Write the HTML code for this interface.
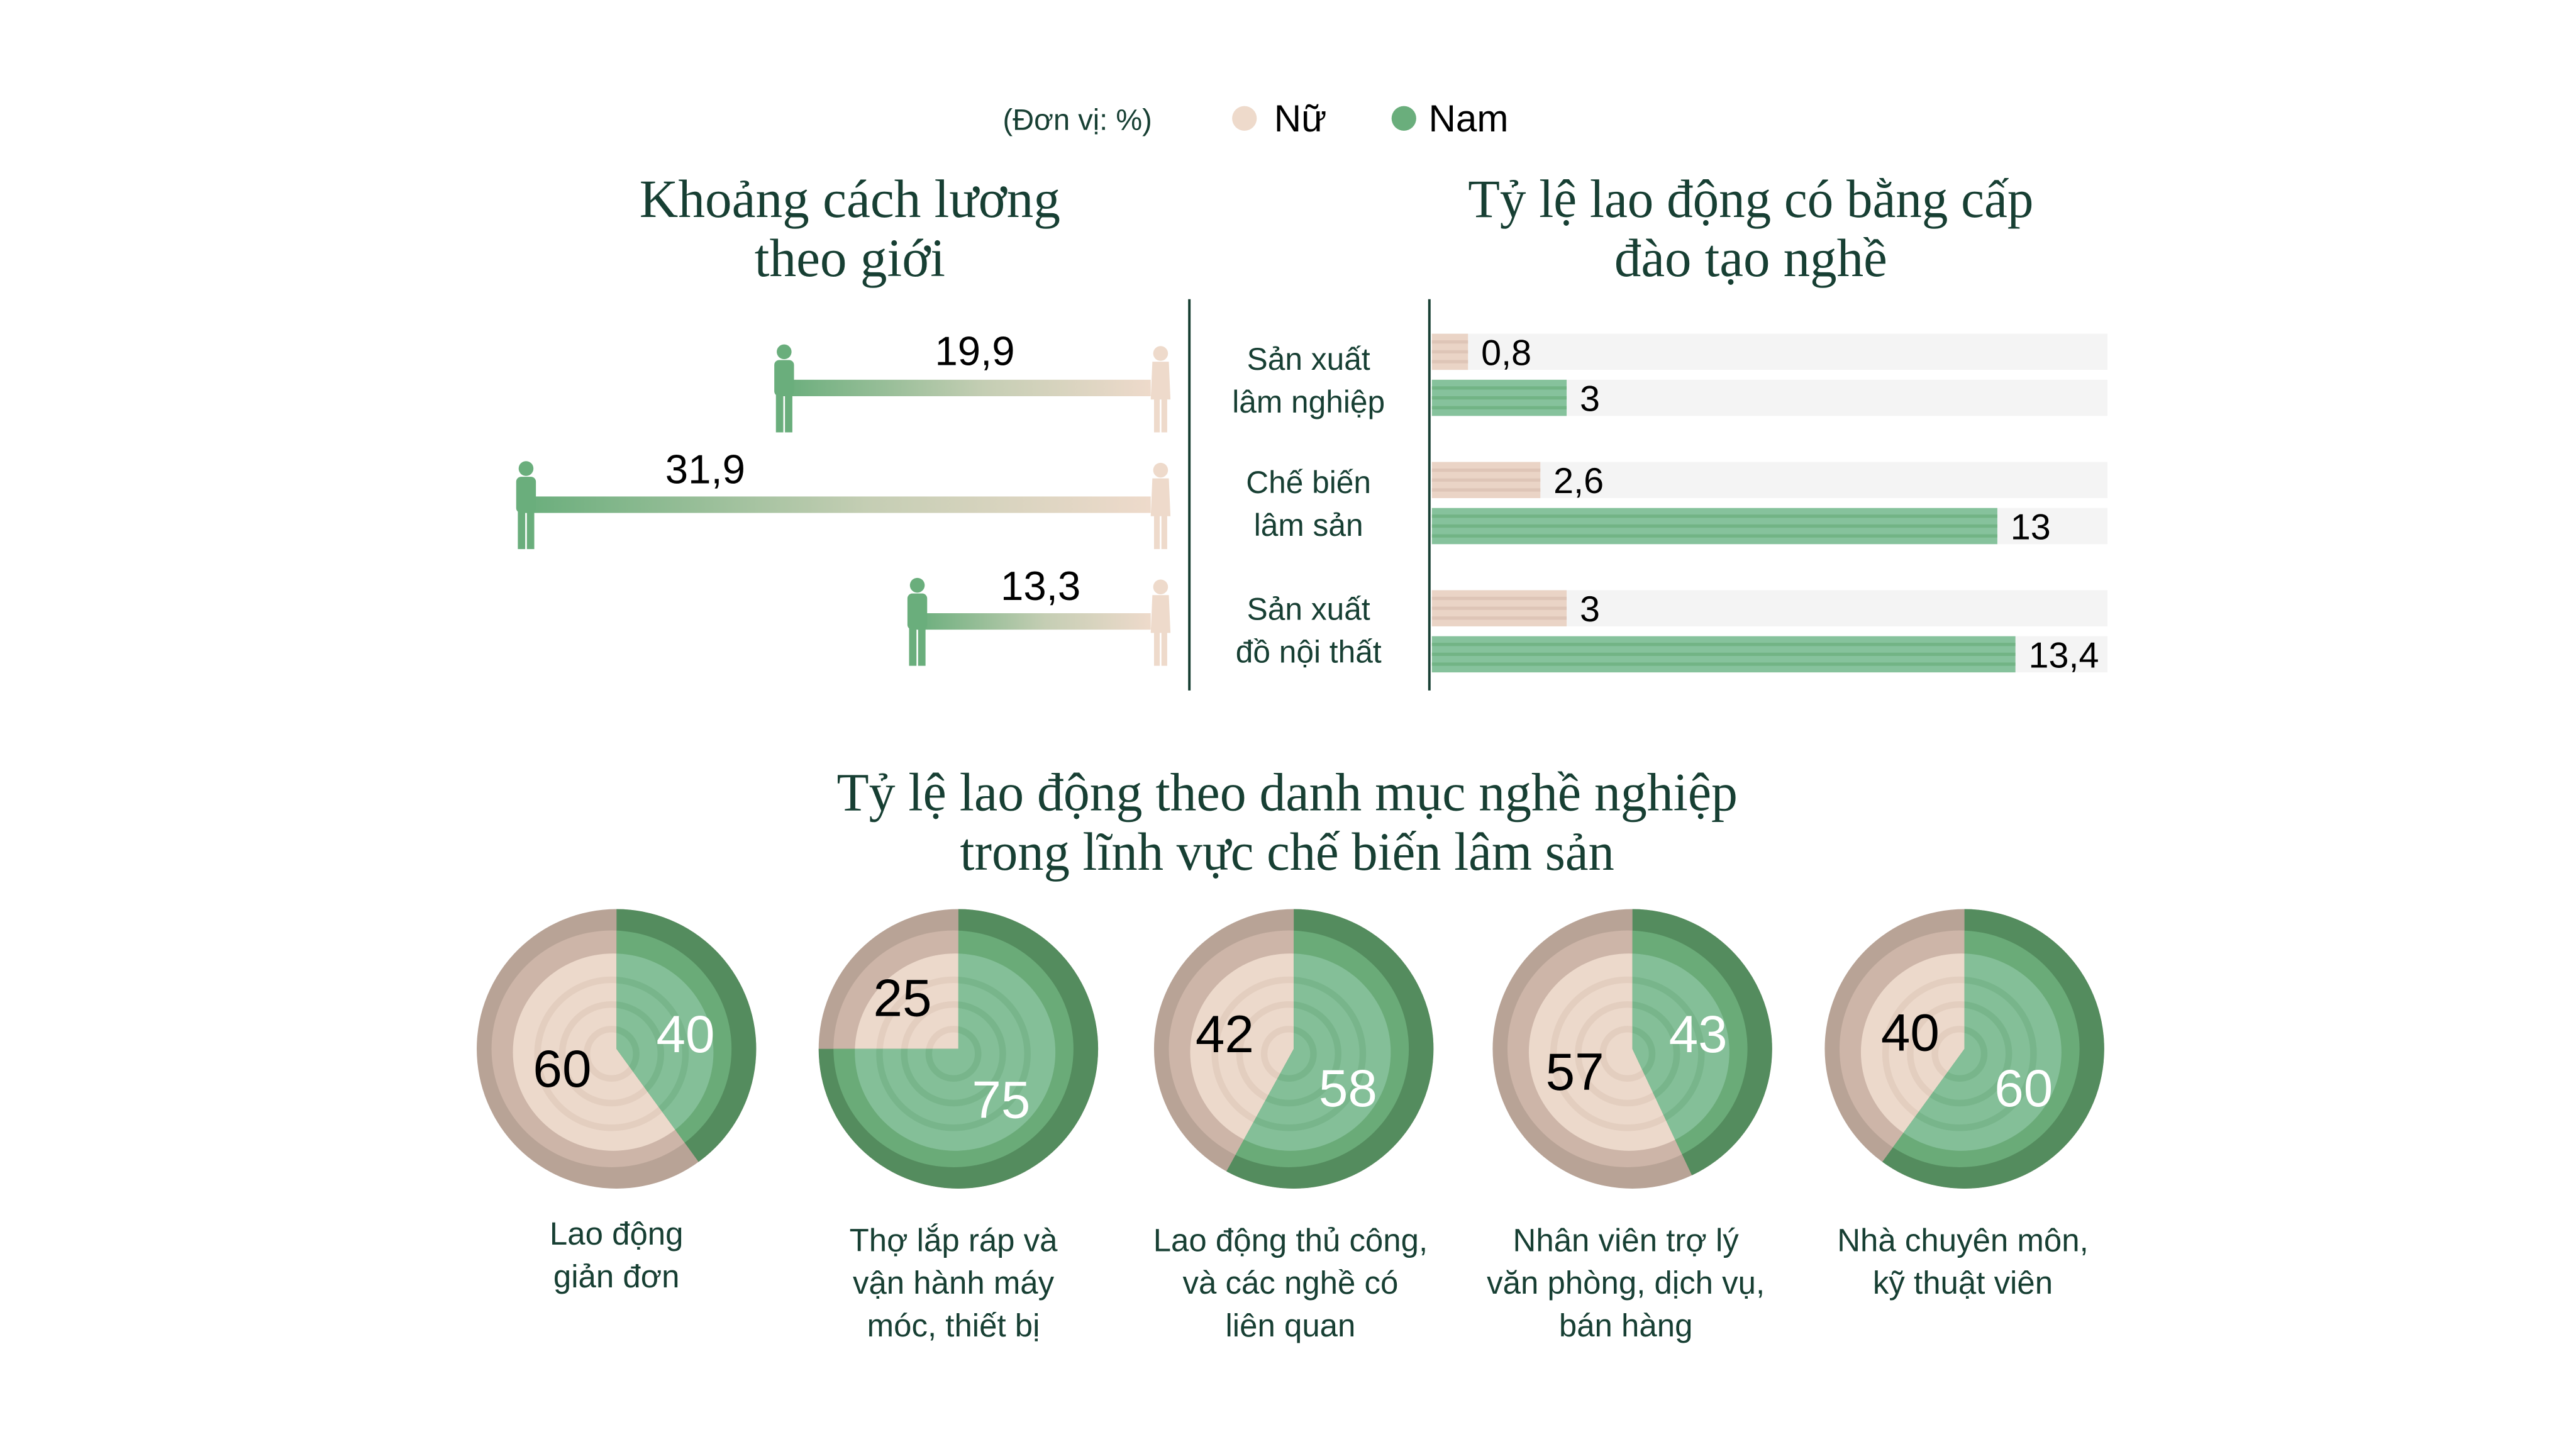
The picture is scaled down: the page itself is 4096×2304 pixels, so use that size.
<!DOCTYPE html>
<html><head><meta charset="utf-8"><style>
html,body{margin:0;padding:0;background:#fff;}
svg{display:block;}
.s{font-family:"Liberation Sans",sans-serif;}
.t{font-family:"Liberation Serif",serif;fill:#173f33;}
</style></head><body>
<svg id="c" width="4096" height="2304" viewBox="0 0 1567 881.4" preserveAspectRatio="none" xmlns="http://www.w3.org/2000/svg">
<defs>
<linearGradient id="gg" x1="0" x2="1" y1="0" y2="0">
<stop offset="0" stop-color="#6aae7c"/><stop offset="0.55" stop-color="#c5ceb4"/><stop offset="1" stop-color="#eedacb"/>
</linearGradient>
<g id="man"><circle cx="0" cy="-21" r="4.5"/><rect x="-6" y="-16" width="12" height="22" rx="3"/><rect x="-5" y="4" width="4.5" height="24"/><rect x="0.5" y="4" width="4.5" height="24"/></g>
<g id="wom"><circle cx="0" cy="-20" r="4.5"/><path d="M-5,-15 L5,-15 L6,8 L-6,8Z"/><rect x="-4" y="6" width="3.5" height="22"/><rect x="0.5" y="6" width="3.5" height="22"/></g>
</defs>
<rect width="1567" height="881.4" fill="#fff"/>
<text class="s" x="610" y="79" font-size="18" fill="#173f33">(Đơn vị: %)</text>
<circle cx="757" cy="72" r="7.5" fill="#eedacb"/>
<text class="s" x="775" y="80" font-size="23" fill="#000">Nữ</text>
<circle cx="854" cy="72" r="7.5" fill="#6aae7c"/>
<text class="s" x="869" y="80" font-size="23" fill="#000">Nam</text>
<text class="t" x="517" y="132" font-size="33" text-anchor="middle" textLength="256" lengthAdjust="spacingAndGlyphs">Khoảng cách lương</text>
<text class="t" x="517" y="168" font-size="33" text-anchor="middle" textLength="116" lengthAdjust="spacingAndGlyphs">theo giới</text>
<text class="t" x="1065" y="132" font-size="33" text-anchor="middle" textLength="344" lengthAdjust="spacingAndGlyphs">Tỷ lệ lao động có bằng cấp</text>
<text class="t" x="1065" y="168" font-size="33" text-anchor="middle" textLength="166" lengthAdjust="spacingAndGlyphs">đào tạo nghề</text>
<line x1="723.5" y1="182" x2="723.5" y2="420" stroke="#173f33" stroke-width="1.5"/>
<line x1="869.5" y1="182" x2="869.5" y2="420" stroke="#173f33" stroke-width="1.5"/>
<g id="gap"></g>
<g id="bars"></g>
<g class="s" font-size="19" fill="#173f33" text-anchor="middle">
<text x="796" y="225">Sản xuất</text><text x="796" y="251">lâm nghiệp</text>
<text x="796" y="300">Chế biến</text><text x="796" y="326">lâm sản</text>
<text x="796" y="377">Sản xuất</text><text x="796" y="403">đồ nội thất</text>
</g>
<text class="t" x="783" y="493" font-size="33" text-anchor="middle" textLength="548" lengthAdjust="spacingAndGlyphs">Tỷ lệ lao động theo danh mục nghề nghiệp</text>
<text class="t" x="783" y="529" font-size="33" text-anchor="middle" textLength="398" lengthAdjust="spacingAndGlyphs">trong lĩnh vực chế biến lâm sản</text>
<g id="pies"></g>
<g class="s" font-size="19.5" fill="#173f33" text-anchor="middle">
<text x="375" y="757">Lao động</text><text x="375" y="783">giản đơn</text>
<text x="580" y="761">Thợ lắp ráp và</text><text x="580" y="787">vận hành máy</text><text x="580" y="813">móc, thiết bị</text>
<text x="785" y="761">Lao động thủ công,</text><text x="785" y="787">và các nghề có</text><text x="785" y="813">liên quan</text>
<text x="989" y="761">Nhân viên trợ lý</text><text x="989" y="787">văn phòng, dịch vụ,</text><text x="989" y="813">bán hàng</text>
<text x="1194" y="761">Nhà chuyên môn,</text><text x="1194" y="787">kỹ thuật viên</text>
</g>
</svg>
<script>
var NS="http://www.w3.org/2000/svg";
function el(p,t,a,txt){var e=document.createElementNS(NS,t);for(var k in a)e.setAttribute(k,a[k]);if(txt!=null)e.textContent=txt;p.appendChild(e);return e;}
var gap=document.getElementById('gap');
[[477,236,593,222,"19,9"],[320,307,429,294,"31,9"],[558,378,633,365,"13,3"]].forEach(function(r){
  el(gap,'rect',{x:r[0],y:r[1]-5,width:700-r[0],height:10,fill:'url(#gg)'});
  el(gap,'use',{href:'#man',x:r[0],y:r[1]-1,fill:'#6aae7c'});
  el(gap,'use',{href:'#wom',x:706,y:r[1]-1,fill:'#eedacb'});
  el(gap,'text',{x:r[2],y:r[3],'class':'s','font-size':25,'text-anchor':'middle',fill:'#000'},r[4]);
});
var bars=document.getElementById('bars');
[[203,893,"0,8",'f'],[231,953,"3",'m'],[281,937,"2,6",'f'],[309,1215,"13",'m'],[359,953,"3",'f'],[387,1226,"13,4",'m']].forEach(function(b){
  el(bars,'rect',{x:871,y:b[0],width:411,height:22,fill:'#f4f4f4'});
  var f=b[3]=='f';
  el(bars,'rect',{x:871,y:b[0],width:b[1]-871,height:22,fill:f?'#ead4c6':'#86c29c'});
  for(var i=0;i<3;i++)el(bars,'rect',{x:871,y:b[0]+4+i*6,width:b[1]-871,height:2,fill:f?'#d8bfb0':'#6aae7c',opacity:0.7});
  el(bars,'text',{x:b[1]+8,y:b[0]+19,'class':'s','font-size':22,fill:'#000'},b[2]);
});
var pies=document.getElementById('pies');
function wedge(cx,cy,r,a0,a1){var p=function(a){a=a*Math.PI/180;return [cx+r*Math.sin(a),cy-r*Math.cos(a)];};var s=p(a0),e=p(a1);var l=(a1-a0)>180?1:0;return 'M'+cx+','+cy+' L'+s[0]+','+s[1]+' A'+r+','+r+' 0 '+l+' 1 '+e[0]+','+e[1]+' Z';}
[[375,638,40,342,650,417,629],[583,638,75,549,607,609,669],[787,638,58,745,629,820,662],[993,638,43,958,652,1033,629],[1195,638,60,1162,628,1231,662]].forEach(function(p,i){
  var cx=p[0],cy=p[1],g=p[2];
  var cp=el(pies,'clipPath',{id:'cp'+i});el(cp,'path',{d:wedge(cx,cy,100,0,g*3.6)});
  var fem=['#b8a396','#cdb5a8','#ecd9cb','#e3cebf'],mal=['#548c5e','#6aab78','#84bf98','#78b58b'];
  [[fem,null],[mal,'url(#cp'+i+')']].forEach(function(s){
    var gg=el(pies,'g',s[1]?{'clip-path':s[1]}:{});
    el(gg,'ellipse',{cx:cx,cy:cy,rx:85,ry:85,fill:s[0][0]});
    el(gg,'ellipse',{cx:cx-3,cy:cy,rx:73,ry:72,fill:s[0][1]});
    el(gg,'ellipse',{cx:cx-2,cy:cy+2,rx:61,ry:60,fill:s[0][2]});
    [45,30,15].forEach(function(r){el(gg,'circle',{cx:cx-3,cy:cy+3,r:r,fill:'none',stroke:s[0][3],'stroke-width':4});});
  });
  el(pies,'text',{x:p[3],y:p[4]+11,'class':'s','font-size':32,'text-anchor':'middle',fill:'#000'},100-g);
  el(pies,'text',{x:p[5],y:p[6]+11,'class':'s','font-size':32,'text-anchor':'middle',fill:'#fff'},g);
});
</script>
</body></html>
